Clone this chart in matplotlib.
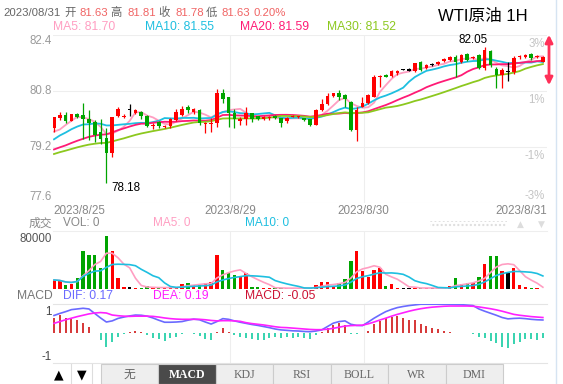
import numpy as np
import pandas as pd
import matplotlib
matplotlib.use('Agg')
import matplotlib.pyplot as plt
from matplotlib.patches import Rectangle
from matplotlib.lines import Line2D
from matplotlib.transforms import blended_transform_factory

plt.rcParams['font.family'] = ['Liberation Sans', 'Noto Sans CJK SC', 'DejaVu Sans']

# ---- data (WTI 1H) ----
opens = [79.73, 80.02, 80.11, 79.94, 80.13, 80.11, 79.99, 79.92, 79.62, 79.45,
         79.02, 80.10, 80.07, 80.26, 80.17, 80.20, 80.10, 79.79, 79.92, 79.77,
         79.79, 79.96, 80.12, 80.34, 80.19, 80.26, 79.86, 79.87, 79.88, 80.75,
         80.62, 80.16, 79.93, 79.99, 80.16, 80.08, 79.99, 80.02, 80.10, 80.02,
         79.93, 80.06, 80.06, 80.02, 79.99, 79.84, 80.26, 80.43, 80.67, 80.75,
         80.70, 80.50, 79.70, 80.35, 80.45, 80.64, 81.19, 81.26, 81.23, 81.31,
         81.42, 81.40, 81.38, 81.64, 81.46, 81.56, 81.58, 81.66, 81.70, 81.78,
         81.62, 81.86, 81.75, 81.83, 81.45, 81.95, 81.42, 81.27, 81.35, 81.35,
         81.76, 81.78, 81.85, 81.76, 81.63]
closes = [80.07, 80.11, 79.94, 80.13, 80.06, 79.99, 79.88, 79.54, 79.42, 79.02,
          80.07, 80.28, 80.10, 80.26, 80.25, 80.08, 79.80, 79.84, 79.79, 79.79,
          80.00, 80.20, 80.30, 80.25, 80.29, 79.88, 79.90, 79.90, 80.73, 80.56,
          80.18, 79.99, 79.99, 80.17, 80.00, 80.00, 80.07, 80.06, 80.03, 79.88,
          80.02, 80.10, 80.07, 79.98, 79.84, 80.27, 80.43, 80.66, 80.73, 80.62,
          80.56, 79.70, 80.26, 80.47, 80.69, 81.21, 81.24, 81.21, 81.38, 81.37,
          81.42, 81.40, 81.59, 81.41, 81.54, 81.56, 81.64, 81.72, 81.76, 81.62,
          81.83, 81.70, 81.78, 81.45, 81.98, 81.55, 81.27, 81.40, 81.35, 81.75,
          81.80, 81.82, 81.75, 81.80, 81.78]
highs = [80.07, 80.21, 80.19, 80.13, 80.16, 80.47, 80.26, 79.97, 80.00, 79.73,
         80.07, 80.33, 80.13, 80.43, 80.28, 80.24, 80.12, 79.88, 79.95, 79.83,
         80.02, 80.28, 80.37, 80.40, 80.32, 80.28, 79.92, 80.02, 80.85, 80.85,
         80.64, 80.30, 80.07, 80.35, 80.18, 80.10, 80.10, 80.10, 80.12, 80.04,
         80.07, 80.12, 80.10, 80.04, 80.00, 80.30, 80.56, 80.75, 80.75, 80.83,
         80.72, 80.52, 80.35, 80.62, 80.72, 81.26, 81.27, 81.28, 81.40, 81.40,
         81.44, 81.45, 81.61, 81.66, 81.58, 81.60, 81.67, 81.75, 81.79, 81.82,
         81.86, 81.90, 81.80, 81.86, 82.05, 81.97, 81.50, 81.45, 81.64, 81.80,
         81.83, 81.85, 81.88, 81.83, 81.81]
lows = [79.62, 79.97, 79.90, 79.94, 80.04, 79.42, 79.40, 79.35, 79.30, 78.18,
        78.92, 80.05, 80.02, 80.10, 80.14, 80.00, 79.78, 79.72, 79.73, 79.73,
        79.75, 79.94, 80.09, 80.18, 80.14, 79.83, 79.60, 79.64, 79.78, 80.45,
        79.78, 79.73, 79.83, 79.83, 79.92, 79.97, 79.97, 79.98, 80.00, 79.78,
        79.88, 80.05, 80.03, 79.95, 79.80, 79.83, 80.24, 80.40, 80.62, 80.54,
        80.35, 79.67, 79.37, 80.33, 80.44, 80.62, 80.92, 81.19, 81.20, 81.27,
        81.40, 81.36, 81.35, 81.38, 81.43, 81.52, 81.55, 81.63, 81.67, 81.20,
        81.60, 81.65, 81.72, 81.42, 81.40, 81.50, 80.88, 80.90, 81.10, 81.30,
        81.72, 81.75, 81.70, 81.74, 81.63]
# closes before the visible window, only used to seed the moving averages
prev_closes = [78.55, 78.62, 78.70, 78.66, 78.74, 78.80, 78.77, 78.83, 78.86, 78.87,
               78.90, 78.82, 78.76, 78.80, 78.85, 78.78, 78.83, 78.88, 78.86, 78.92,
               79.02, 79.10, 79.18, 79.30, 79.40, 79.81, 79.29, 79.53, 79.50]
volumes = [14600, 13000, 6800, 8400, 18300, 59100, 52800, 53900, 32900, 82600,
           59100, 17300, 4200, 4200, 1600, 2600, 5200, 1600, 2600, 1600,
           2600, 4200, 8400, 10500, 6800, 7800, 9400, 11000, 53900, 30300,
           25100, 22500, 19900, 26100, 4200, 3100, 1600, 1600, 1600, 2600,
           1600, 1600, 1600, 1600, 2600, 6800, 11000, 11000, 5800, 9400,
           16200, 44400, 60100, 28800, 19900, 30300, 32900, 5200, 8400, 1600,
           1600, 2600, 2600, 1600, 1600, 1600, 1600, 1600, 5800, 18300,
           7800, 9400, 9400, 19900, 39700, 52300, 52300, 29300, 25100, 32900,
           6800, 4200, 2600, 1600, 1000]
dif = [0.79, 0.88, 0.96, 1.05, 1.08, 1.11, 1.08, 0.88, 0.68, 0.50,
       0.55, 0.66, 0.72, 0.77, 0.81, 0.80, 0.76, 0.68, 0.58, 0.49,
       0.49, 0.50, 0.52, 0.58, 0.63, 0.60, 0.50, 0.41, 0.52, 0.65,
       0.62, 0.55, 0.49, 0.44, 0.39, 0.35, 0.30, 0.25, 0.19, 0.15,
       0.13, 0.11, 0.10, 0.08, 0.07, 0.10, 0.15, 0.30, 0.45, 0.52,
       0.55, 0.40, 0.35, 0.34, 0.50, 0.67, 0.82, 0.96, 1.06, 1.14,
       1.19, 1.23, 1.26, 1.29, 1.29, 1.29, 1.29, 1.29, 1.29, 1.28,
       1.27, 1.25, 1.23, 1.08, 0.98, 0.89, 0.80, 0.70, 0.64, 0.66,
       0.67, 0.65, 0.62, 0.60, 0.59]
dea = [0.44, 0.52, 0.60, 0.67, 0.74, 0.80, 0.86, 0.90, 0.92, 0.90,
       0.81, 0.78, 0.76, 0.75, 0.76, 0.76, 0.76, 0.75, 0.72, 0.68,
       0.65, 0.63, 0.62, 0.62, 0.62, 0.62, 0.60, 0.57, 0.55, 0.56,
       0.56, 0.55, 0.53, 0.47, 0.43, 0.40, 0.37, 0.33, 0.29, 0.26,
       0.25, 0.23, 0.21, 0.19, 0.17, 0.16, 0.16, 0.18, 0.22, 0.27,
       0.32, 0.34, 0.35, 0.36, 0.42, 0.50, 0.59, 0.67, 0.76, 0.84,
       0.91, 0.98, 1.04, 1.09, 1.13, 1.16, 1.18, 1.20, 1.21, 1.21,
       1.21, 1.21, 1.20, 1.17, 1.13, 1.09, 1.04, 0.98, 0.91, 0.84,
       0.80, 0.77, 0.74, 0.72, 0.70]
macd_hist = [0.67, 0.79, 0.70, 0.70, 0.59, 0.44, 0.30, 0.00, -0.30, -0.62,
             -0.37, -0.15, -0.03, 0.07, 0.10, 0.07, -0.07, -0.22, -0.25, -0.34,
             -0.22, -0.15, -0.02, 0.00, -0.03, -0.10, -0.25, -0.30, 0.07, 0.22,
             0.07, -0.07, -0.15, -0.22, -0.25, -0.30, -0.30, -0.22, -0.18, -0.22,
             -0.18, -0.22, -0.15, -0.19, -0.25, -0.07, 0.07, 0.25, 0.37, 0.47,
             0.37, -0.04, -0.04, 0.00, 0.10, 0.40, 0.55, 0.67, 0.74, 0.77,
             0.67, 0.59, 0.59, 0.40, 0.34, 0.25, 0.18, 0.12, 0.07, 0.00,
             0.00, 0.00, -0.04, -0.15, -0.19, -0.34, -0.44, -0.59, -0.64, -0.49,
             -0.37, -0.27, -0.25, -0.30, -0.19]

price_ticks = [77.6, 79.2, 80.8, 82.4]
pct_labels = ['-3%', '-1%', '1%', '3%']
date_labels = ['2023/8/25', '2023/8/29', '2023/8/30', '2023/8/31']
date_pos = [0, 30.2, 53.2, 84]
hi_idx, lo_idx = 74, 9

RED = '#ff0000'
GREEN = '#00a400'
MA_COLORS = {5: '#ff9ec2', 10: '#1ebfe0', 20: '#ff1a75', 30: '#8cc81e'}

# ---- layout helpers (pixel coords, y from top) ----
W, H = 563, 384
X0, DX = 54.0, 5.82  # pixel x of first candle, candle spacing


def box(x0, y0, x1, y1):
    return [x0 / W, 1 - y1 / H, (x1 - x0) / W, (y1 - y0) / H]


def ftext(x, y, s, **kw):
    kw.setdefault('va', 'center')
    return fig.text(x / W, 1 - y / H, s, **kw)


n = len(closes)
idx = np.arange(n)
o, c, h, l = map(np.array, (opens, closes, highs, lows))
colors = np.where(c > o, RED, np.where(c < o, GREEN, 'black'))

fig = plt.figure(figsize=(W / 100, H / 100), dpi=100)
fig.patch.set_facecolor('white')

ax_k = fig.add_axes(box(53, 35, 547, 203))
ax_v = fig.add_axes(box(53, 231, 547, 289.3))
ax_m = fig.add_axes(box(53, 304, 547, 363))

for ax in (ax_k, ax_v, ax_m):
    ax.set_xlim((53 - X0) / DX, (547 - X0) / DX)
    ax.set_xticks([])
    for s in ax.spines.values():
        s.set_visible(False)
    ax.tick_params(length=0, pad=1)
    for p in date_pos[1:3]:
        ax.axvline(p, color='#eeeeee', lw=0.8, zorder=0)

# ---- candles ----
ax_k.set_ylim(price_ticks[0], price_ticks[-1])
ax_k.set_yticks(price_ticks)
ax_k.set_yticklabels([f'{t:.1f}' for t in price_ticks], fontsize=8.3, color='#9a9a9a')
for lbl, va in zip(ax_k.get_yticklabels(), ['bottom', 'center', 'center', 'top']):
    lbl.set_va(va)
ax_k.grid(axis='y', color='#eeeeee', lw=0.8)

all_close = pd.Series(prev_closes + closes)
for w, col in MA_COLORS.items():
    ma = all_close.rolling(w).mean().values[-n:]
    ax_k.plot(idx, ma, color=col, lw=1.3, zorder=2)

ax_k.vlines(idx, l, h, colors=colors, lw=0.9, zorder=3)
body = np.maximum(np.abs(c - o), 0.03)
ax_k.bar(idx, body, bottom=(o + c) / 2 - body / 2, width=0.62, color=colors, lw=0, zorder=4)

ax_k.annotate(f'{h[hi_idx]:.2f}', (hi_idx, h[hi_idx]), xytext=(-8.4, 5), textcoords='offset points',
              ha='center', va='center', fontsize=8.4, color='black')
ax_k.annotate(f'{l[lo_idx]:.2f}', (lo_idx, l[lo_idx]), xytext=(14, -3.8), textcoords='offset points',
              ha='center', va='center', fontsize=8.4, color='black')

tr = blended_transform_factory(ax_k.transAxes, ax_k.transData)
for val, lab in zip(price_ticks, pct_labels):
    va = 'bottom' if val == price_ticks[0] else 'top'
    dy = 1 if va == 'bottom' else -2
    ax_k.annotate(lab, (0.996, val), xycoords=tr, xytext=(0, dy), textcoords='offset points',
                  ha='right', va=va, fontsize=8.3, color='#c4c4c4')

trd = blended_transform_factory(ax_k.transData, ax_k.transAxes)
for k, (p, lab) in enumerate(zip(date_pos, date_labels)):
    ha = 'left' if k == 0 else ('right' if k == len(date_pos) - 1 else 'center')
    x = ax_k.get_xlim()[0] if k == 0 else (ax_k.get_xlim()[1] if ha == 'right' else p)
    ax_k.text(x, -0.048, lab, transform=trd, ha=ha, va='center', fontsize=8.4, color='#888888')

# ---- volume ----
vol = pd.Series(volumes)
ax_v.bar(idx, volumes, width=0.58, color=colors, lw=0, zorder=2)
ax_v.plot(idx, vol.rolling(5, min_periods=1).mean(), color=MA_COLORS[5], lw=1.2, zorder=3)
ax_v.plot(idx, vol.rolling(10, min_periods=1).mean(), color=MA_COLORS[10], lw=1.2, zorder=3)
ax_v.set_ylim(0, 90900)
ax_v.set_yticks([80000])
ax_v.set_yticklabels(['80000'], fontsize=8.3, color='#555555')
ax_v.spines['top'].set_visible(True)
ax_v.spines['top'].set_color('#eeeeee')

# ---- MACD ----
hist = np.array(macd_hist)
ax_m.vlines(idx, 0, hist, colors=np.where(hist >= 0, '#cc0000', '#00c89a'), lw=1.1, zorder=2)
ax_m.plot(idx, dif, color='#6a6aff', lw=1.2, zorder=3)
ax_m.plot(idx, dea, color='#ff20ff', lw=1.2, zorder=3)
ax_m.set_ylim(-1.32, 1.30)
ax_m.set_yticks([-1, 1])
ax_m.set_yticklabels(['-1', '1'], fontsize=8.3, color='#444444')
for side in ('top', 'bottom'):
    ax_m.spines[side].set_visible(True)
    ax_m.spines[side].set_color('#e4e4e4')

# ---- header texts ----
ftext(3, 12.7, '2023/08/31', fontsize=8.2, color='#666666')
for x, s, col in [(64, '开', '#666666'), (79, '81.63', '#f06464'), (110, '高', '#666666'),
                  (127, '81.81', '#f06464'), (158, '收', '#666666'), (175, '81.78', '#f06464'),
                  (206, '低', '#666666'), (222, '81.63', '#f06464'), (253, '0.20%', '#f06464')]:
    ftext(x, 12.7, s, fontsize=8.2, color=col)
ftext(438, 17, 'WTI原油 1H', fontsize=12, color='black')

for x, s, col in [(53, 'MA5: 81.70', MA_COLORS[5]), (145, 'MA10: 81.55', MA_COLORS[10]),
                  (240, 'MA20: 81.59', MA_COLORS[20]), (327, 'MA30: 81.52', MA_COLORS[30])]:
    ftext(x, 27, s, fontsize=8.7, color=col)

ftext(52, 223.5, '成交', fontsize=8.5, color='#888888', ha='right')
ftext(63, 223.5, 'VOL: 0', fontsize=8.5, color='#888888')
ftext(153, 223.5, 'MA5: 0', fontsize=8.5, color=MA_COLORS[5])
ftext(245, 223.5, 'MA10: 0', fontsize=8.5, color=MA_COLORS[10])
fig.add_artist(Rectangle((430 / W, 1 - 227 / H), 77 / W, 6 / H, transform=fig.transFigure,
                         fill=False, hatch='....', edgecolor='#dddddd', lw=0))
ftext(520, 224.5, '▲', fontsize=6.5, color='#dddddd', ha='center', family='DejaVu Sans')
ftext(541, 224.5, '▼', fontsize=6.5, color='#dddddd', ha='center', family='DejaVu Sans')

ftext(53, 296, 'MACD', fontsize=8.7, color='#777777', ha='right')
ftext(63, 296, 'DIF: 0.17', fontsize=8.7, color='#6a6aff')
ftext(153, 296, 'DEA: 0.19', fontsize=8.7, color='#ff20ff')
ftext(245, 296, 'MACD: -0.05', fontsize=8.7, color='#cc1133')

# right edge: range arrow and side border
ax_k.annotate('', xy=(549, H - 32), xycoords='figure pixels', xytext=(549, H - 88),
              textcoords='figure pixels', annotation_clip=False,
              arrowprops=dict(arrowstyle='<|-|>', color='#ff3058', lw=2, mutation_scale=11))
fig.add_artist(Line2D([556 / W, 556 / W], [0, 1], color='#d6e4f2', lw=1))

# ---- bottom tab bar ----
ftext(59, 375, '▲', fontsize=9, color='black', ha='center', family='DejaVu Sans')
ftext(82, 375, '▼', fontsize=9, color='black', ha='center', family='DejaVu Sans')
for xs in (71, 92):
    fig.add_artist(Line2D([xs / W, xs / W], [0, 1 - 364 / H], color='#dddddd', lw=0.8))
tab_names = ['无', 'MACD', 'KDJ', 'RSI', 'BOLL', 'WR', 'DMI']
for k, name in enumerate(tab_names):
    x0 = 100.7 + k * 57.5
    active = name == 'MACD'
    fig.add_artist(Rectangle((x0 / W, 0), 57.5 / W, 20 / H, transform=fig.transFigure,
                             facecolor='#4a4a4a' if active else '#eeeeee', edgecolor='#cccccc', lw=0.8))
    ftext(x0 + 28.75, 375, name, ha='center', fontsize=8.5,
          color='white' if active else '#666666', fontweight='bold' if active else 'normal',
          family=['Liberation Serif', 'Noto Sans CJK SC'])

fig.savefig('out.png', dpi=100)
